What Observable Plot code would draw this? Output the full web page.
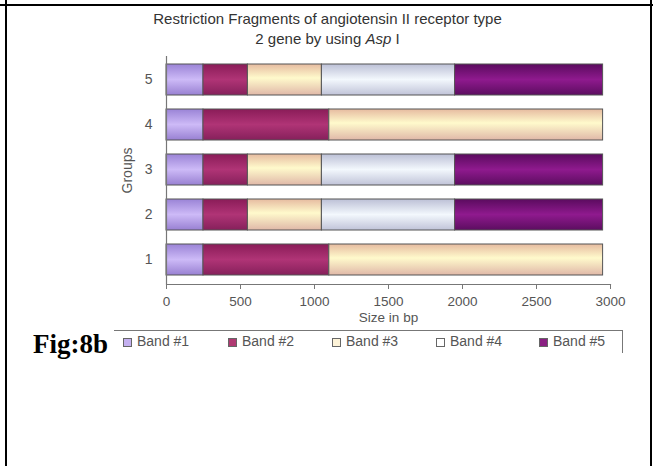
<!DOCTYPE html>
<html>
<head>
<meta charset="utf-8">
<script src="https://cdn.jsdelivr.net/npm/d3@7"></script>
<script src="https://cdn.jsdelivr.net/npm/@observablehq/plot@0.6"></script>
<style>
  html, body { margin: 0; padding: 0; background: #fff; }
  #wrap { position: relative; width: 657px; height: 466px; overflow: hidden; background: #fff; font-family: "Liberation Sans", Arial, sans-serif; }
  .line { position: absolute; background: #000; }
  #chart { position: absolute; left: 0; top: 0; }
  .title { position: absolute; left: 0; width: 655px; text-align: center; font-size: 15px; color: #333; white-space: nowrap; }
  #legendBox { position: absolute; left: 114px; top: 330px; width: 508px; height: 22px; border-top: 1px solid #777; border-right: 1px solid #777; }
  .item { position: absolute; top: 333px; font-size: 14px; color: #555; white-space: nowrap; line-height: 16px; }
  .sw { display: inline-block; width: 7px; height: 7px; border: 1px solid #666; margin-right: 5px; vertical-align: -1px; }
  #fig { position: absolute; left: 33px; top: 329px; font-family: "Liberation Serif", serif; font-weight: bold; font-size: 27px; color: #000; white-space: nowrap; }
</style>
</head>
<body>
<div id="wrap">
  <div class="line" style="left:0; top:4px; width:653px; height:2px;"></div>
  <div class="line" style="left:5px; top:0; width:2px; height:466px;"></div>
  <div class="line" style="left:650px; top:0; width:2px; height:466px;"></div>
  <div class="title" style="top:10px;">Restriction Fragments of angiotensin II receptor type</div>
  <div class="title" style="top:30px;">2 gene by using <i>Asp</i> I</div>
  <div id="chart"></div>
  <div id="legendBox"></div>
  <div id="legend"></div>
  <div id="fig">Fig:8b</div>
</div>
<svg width="0" height="0" style="position:absolute">
  <defs id="gdefs"></defs>
</svg>
<script>
// ---- data ----
const groups = ["1", "2", "3", "4", "5"];
const bands = ["Band #1", "Band #2", "Band #3", "Band #4", "Band #5"];
const band1 = [250, 250, 250, 250, 250];
const band2 = [850, 300, 300, 850, 300];
const band3 = [1850, 500, 500, 1850, 500];
const band4 = [0, 900, 900, 0, 900];
const band5 = [0, 1000, 1000, 0, 1000];
const xTicks = [0, 500, 1000, 1500, 2000, 2500, 3000];

const series = [band1, band2, band3, band4, band5];
const rows = [];
groups.forEach((g, i) => {
  bands.forEach((b, j) => {
    if (series[j][i] > 0) rows.push({group: g, band: b, size: series[j][i]});
  });
});

// ---- gradients ----
const gradStops = [
  [["0", "#9a83d6"], ["0.5", "#cdbaf7"], ["1", "#9880d2"]],
  [["0", "#8a1c58"], ["0.5", "#b03476"], ["1", "#86205b"]],
  [["0", "#e6bba0"], ["0.45", "#fffacc"], ["1", "#e0b8a8"]],
  [["0", "#bcc0d6"], ["0.5", "#f3f8fd"], ["1", "#c0c3d8"]],
  [["0", "#5a0b5e"], ["0.5", "#8f1a8e"], ["1", "#5c0d60"]]
];
const swatchColors = ["#c4b0f0", "#b03a72", "#fdf3d8", "#ffffff", "#8a2082"];
const defs = document.getElementById("gdefs");
defs.innerHTML = gradStops.map((stops, i) =>
  `<linearGradient id="g${i}" x1="0" y1="0" x2="0" y2="1">` +
  stops.map(([o, c]) => `<stop offset="${o}" stop-color="${c}"/>`).join("") +
  `</linearGradient>`).join("");

const chart = Plot.plot({
  width: 657,
  height: 329,
  marginLeft: 166,
  marginRight: 47,
  marginTop: 56,
  marginBottom: 45,
  style: {fontFamily: "Liberation Sans, Arial, sans-serif", fontSize: "14px", color: "#555", background: "transparent"},
  x: {domain: [0, 3000]},
  y: {domain: groups.slice().reverse(), paddingInner: 0.3, paddingOuter: 0.13},
  color: {domain: bands, range: bands.map((b, i) => `url(#g${i})`)},
  marks: [
    Plot.barX(rows, Plot.stackX({y: "group", x: "size", fill: "band", stroke: "#555", strokeWidth: 1})),
    Plot.ruleX([0], {stroke: "#777", strokeWidth: 1.2}),
    Plot.frame({anchor: "bottom", stroke: "#777", strokeWidth: 1.2}),
    Plot.axisX({ticks: xTicks, tickFormat: d => String(d), tickSize: 5, tickPadding: 7, fontSize: 13.5, stroke: "#777", fill: "#555", label: null}),
    Plot.axisY({tickSize: 0, tickPadding: 14, fill: "#555", label: null}),
    Plot.text(["Size in bp"], {frameAnchor: "bottom", dy: 37, fill: "#555", fontSize: 13.5}),
    Plot.text(["Groups"], {frameAnchor: "left", dx: -39, rotate: -90, textAnchor: "middle", fill: "#555", fontSize: 14})
  ]
});
document.getElementById("chart").appendChild(chart);

// ---- legend ----
const legendX = [123, 228, 332, 436, 539];
document.getElementById("legend").innerHTML = bands.map((b, i) =>
  `<div class="item" style="left:${legendX[i]}px"><span class="sw" style="background:${swatchColors[i]}"></span>${b}</div>`
).join("");
</script>
</body>
</html>
